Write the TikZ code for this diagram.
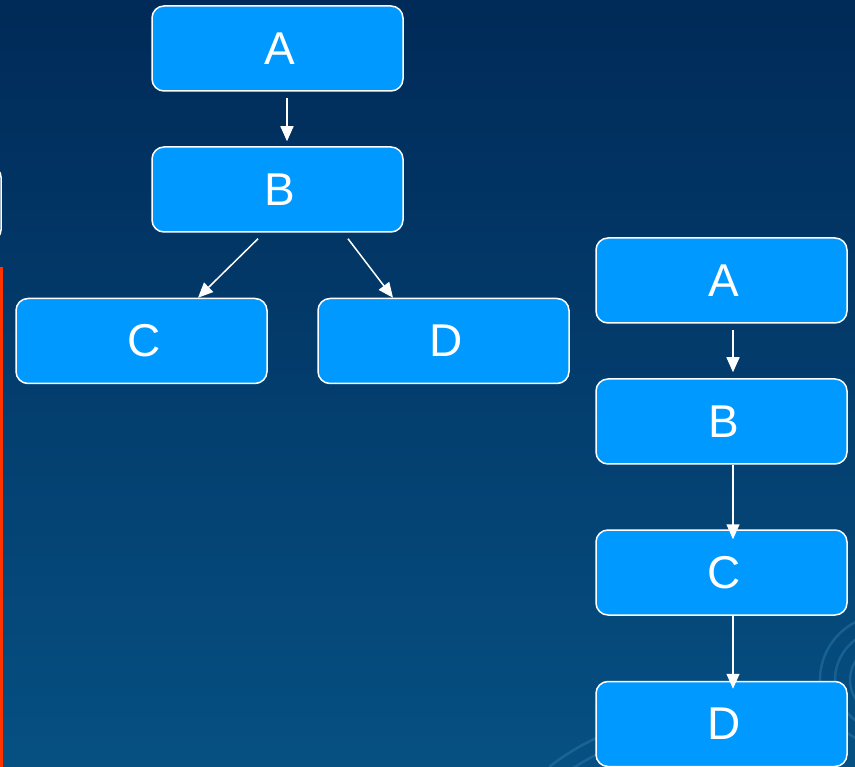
\documentclass[tikz,border=0pt]{standalone}
\usepackage{fontspec}
\setmainfont{Liberation Sans}
\usetikzlibrary{arrows.meta, positioning}

\definecolor{bgtop}{RGB}{0,42,88}
\definecolor{bgbottom}{RGB}{6,80,130}
\definecolor{boxfill}{RGB}{0,153,255}
\definecolor{sideline}{RGB}{255,51,0}
\definecolor{swirl}{RGB}{60,140,190}

\tikzset{
	treebox/.style={draw=white, line width=1.5pt, fill=boxfill, rounded corners=12pt,
		minimum width=251pt, minimum height=85pt, inner sep=0pt,
		text=white, font=\fontsize{46}{46}\selectfont,
		execute at begin node=\hspace*{5pt}},
	link/.style={draw=white, line width=1.5pt, -{Triangle[width=13pt, length=15pt]}}
}

\begin{document}
\begin{tikzpicture}[x=1pt, y=-1pt]
	\useasboundingbox (0,0) rectangle (855,767);
	\clip (0,0) rectangle (855,767);
	% Background and side marks:
	\shade[top color=bgtop, bottom color=bgbottom] (0,0) rectangle (855,767);
	\begin{scope}[swirl, opacity=0.35, line width=2.5pt]
		\draw ([shift={(110:35)}]885,680) arc (110:250:35);
		\draw ([shift={(110:50)}]885,680) arc (110:250:50);
		\draw ([shift={(110:65)}]885,680) arc (110:250:65);
		\draw ([shift={(235:230)}]700,960) arc (235:262:230);
		\draw ([shift={(232:245)}]700,960) arc (232:262:245);
	\end{scope}
	\draw[white, line width=1.5pt, rounded corners=10pt] (-60,167) rectangle (1,240);
	\fill[sideline] (0,267) rectangle (2.5,767);
	% Branching tree:
	\node[treebox] (A1) at (277.5,48.5) {A};
	\node[treebox] (B1) at (277.5,189.5) {B};
	\node[treebox] (C1) at (141.5,341) {C};
	\node[treebox] (D1) at (443.5,341) {D};
	\draw[link] ([shift={(9.5,6)}]A1.south) -- ([shift={(9.5,-5)}]B1.north);
	\draw[link] ([shift={(-19.5,6)}]B1.south) -- ([shift={(56.5,0)}]C1.north);
	\draw[link] ([shift={(70.5,6)}]B1.south) -- ([shift={(-50.5,0)}]D1.north);
	% Chain:
	\node[treebox] (A2) at (721.5,280.5) {A};
	\node[treebox] (B2) at (721.5,421.5) {B};
	\node[treebox] (C2) at (721.5,572.5) {C};
	\node[treebox] (D2) at (721.5,724) {D};
	\draw[link] ([shift={(11.5,6)}]A2.south) -- ([shift={(11.5,-6)}]B2.north);
	\draw[link] ([xshift=11.5]B2.south) -- ([shift={(11.5,10)}]C2.north);
	\draw[link] ([xshift=11.5]C2.south) -- ([shift={(11.5,8)}]D2.north);
\end{tikzpicture}
\end{document}
